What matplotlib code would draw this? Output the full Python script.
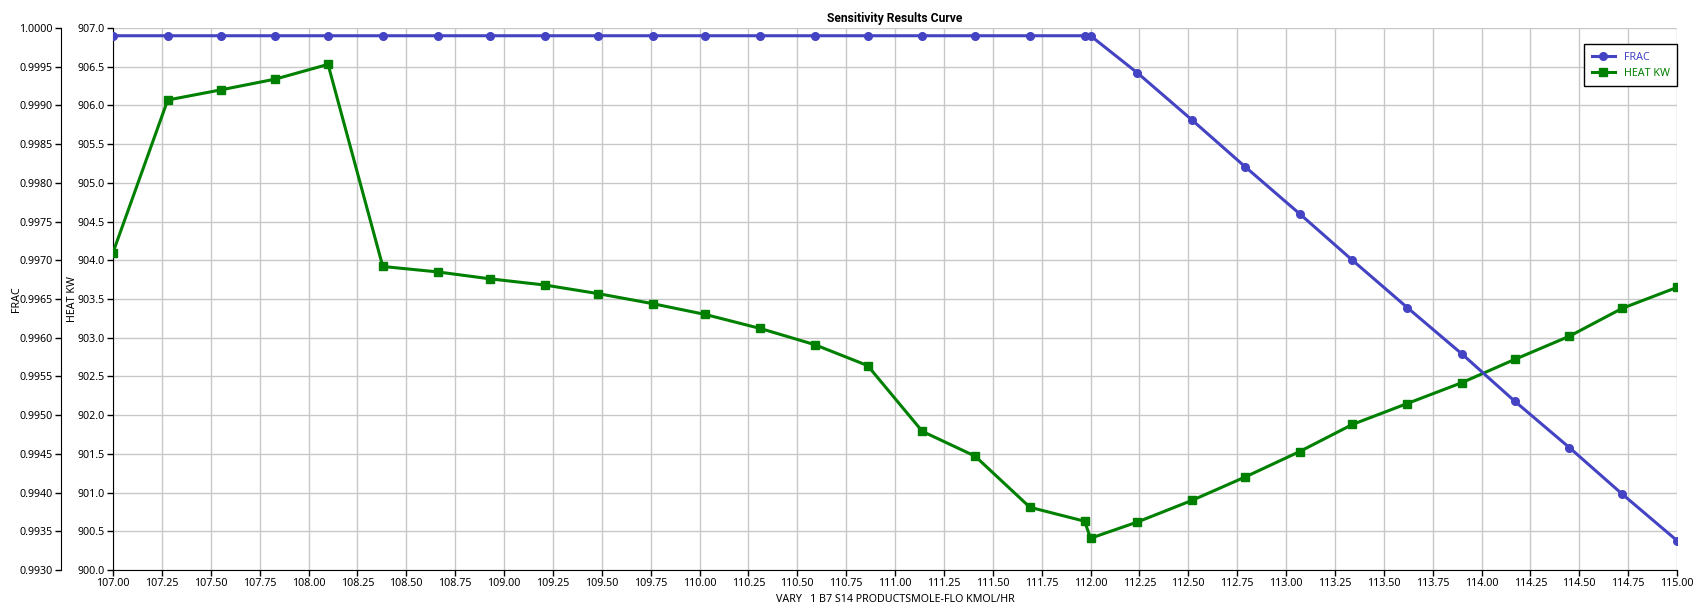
import numpy as np
import matplotlib
matplotlib.use("Agg")
import matplotlib.pyplot as plt
from matplotlib.ticker import FormatStrFormatter

plt.rcParams['font.family'] = ['Noto Sans', 'DejaVu Sans']

# varied flow (kmol/hr)
flow = [107.00, 107.28, 107.55, 107.83, 108.10, 108.38, 108.66, 108.93, 109.21,
        109.48, 109.76, 110.03, 110.31, 110.59, 110.86, 111.14, 111.41, 111.69,
        111.97, 112.00, 112.24, 112.52, 112.79, 113.07, 113.34, 113.62, 113.90,
        114.17, 114.45, 114.72, 115.00]

frac = [0.9999, 0.9999, 0.9999, 0.9999, 0.9999, 0.9999, 0.9999, 0.9999, 0.9999,
        0.9999, 0.9999, 0.9999, 0.9999, 0.9999, 0.9999, 0.9999, 0.9999, 0.9999,
        0.9999, 0.9999, 0.99942, 0.99881, 0.99821, 0.99760, 0.99700, 0.99639,
        0.99579, 0.99518, 0.99458, 0.99398, 0.99338]

heat = [904.10, 906.07, 906.20, 906.34, 906.53, 903.92, 903.85, 903.76, 903.68,
        903.57, 903.44, 903.30, 903.12, 902.91, 902.64, 901.79, 901.47, 900.81,
        900.63, 900.41, 900.62, 900.90, 901.20, 901.53, 901.88, 902.15, 902.42,
        902.72, 903.02, 903.38, 903.65]

blue = '#4343c3'
green = '#008000'


def setup_axes():
    fig = plt.figure(figsize=(17, 6.16), dpi=100)
    ax = fig.add_axes([113/1700, 1 - 570/616, (1677 - 113)/1700, (570 - 28)/616])
    ax2 = ax.twinx()

    # heat axis sits on the plot edge, frac axis further left
    ax2.spines['left'].set_visible(True)
    ax2.spines['left'].set_position(('outward', 37.4))
    ax2.yaxis.set_ticks_position('left')
    ax2.yaxis.set_label_position('left')
    for a in (ax, ax2):
        a.spines['top'].set_visible(False)
        a.spines['right'].set_visible(False)
        a.tick_params(direction='out', length=4, width=1, labelsize=7.7, pad=2)
    ax2.spines['bottom'].set_visible(False)
    return fig, ax, ax2


def chart():
    fig, ax, ax2 = setup_axes()

    l2, = ax.plot(flow, heat, color=green, lw=2.2, marker='s', ms=5.5,
                  label='HEAT KW', zorder=3)
    l1, = ax2.plot(flow, frac, color=blue, lw=2.2, marker='o', ms=5.5,
                   label='FRAC', zorder=3)

    ax.set_xlim(107, 115)
    ax.set_xticks(np.arange(107, 115.01, 0.25))
    ax.xaxis.set_major_formatter(FormatStrFormatter('%.2f'))
    ax.set_ylim(900, 907)
    ax.set_yticks(np.arange(900, 907.01, 0.5))
    ax.yaxis.set_major_formatter(FormatStrFormatter('%.1f'))
    ax2.set_ylim(0.993, 1.0)
    ax2.set_yticks(np.arange(0.993, 1.00001, 0.0005))
    ax2.yaxis.set_major_formatter(FormatStrFormatter('%.4f'))

    ax.grid(True, color='#c8c8c8', lw=1)
    ax.set_axisbelow(True)

    ax.set_xlabel('VARY   1 B7 S14 PRODUCTSMOLE-FLO KMOL/HR', fontsize=7.7, labelpad=3)
    ax.set_ylabel('HEAT KW', fontsize=7.7)
    ax2.set_ylabel('FRAC', fontsize=7.7)
    ax.yaxis.set_label_coords(-0.0224, 0.5)
    ax2.yaxis.set_label_coords(-0.0582, 0.5)
    ax.set_title('Sensitivity Results Curve', fontsize=8.7, fontweight='bold',
                 family=['Roboto', 'DejaVu Sans'], pad=4)

    leg = ax2.legend(handles=[l1, l2], loc='upper right', bbox_to_anchor=(1.0, 0.97),
                     borderaxespad=0, fontsize=7.7, fancybox=False, framealpha=1,
                     edgecolor='black', handlelength=2.2, labelspacing=0.45,
                     borderpad=0.7)
    leg.get_frame().set_linewidth(1)
    for txt, c in zip(leg.get_texts(), [blue, green]):
        txt.set_color(c)

    fig.savefig('out.png', dpi=100)


chart()
